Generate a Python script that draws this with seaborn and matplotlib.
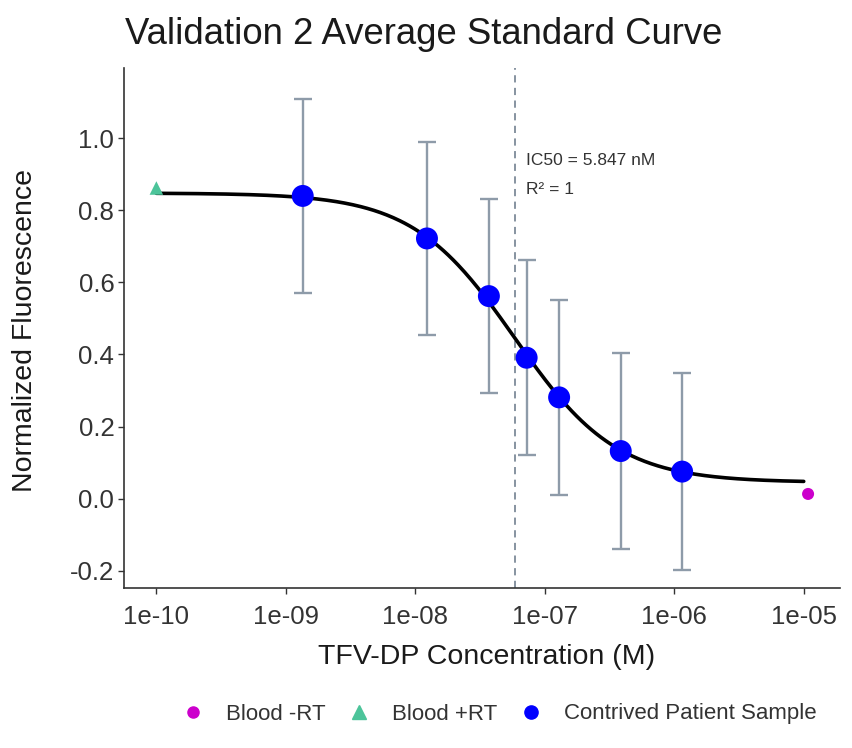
import numpy as np
import pandas as pd
import matplotlib
matplotlib.use("Agg")
import matplotlib.pyplot as plt
from matplotlib.lines import Line2D
import seaborn as sns

# ---- data ----
conc = [1.35e-9, 1.23e-8, 3.7e-8, 7.24e-8, 1.29e-7, 3.86e-7, 1.15e-6]
mean_fl = [0.840, 0.722, 0.562, 0.391, 0.281, 0.132, 0.075]
sd_fl = [0.270, 0.269, 0.270, 0.270, 0.271, 0.272, 0.273]
blood_pos_conc = [1e-10]
blood_pos_fl = [0.862]
blood_neg_conc = [1.08e-5]
blood_neg_fl = [0.013]
# 4-parameter logistic fit shown in the chart
fit_top = 0.848
fit_bottom = 0.045
fit_ic50 = 5.847e-8
fit_hill = 1.10
curve_span = [1e-10, 1e-5]
group_names = ["Blood -RT", "Blood +RT", "Contrived Patient Sample"]
group_colors = ["#CC00CC", "#4CC49A", "#0000FF"]
x_ticks = [1e-10, 1e-9, 1e-8, 1e-7, 1e-6, 1e-5]
x_tick_labels = ["1e-10", "1e-09", "1e-08", "1e-07", "1e-06", "1e-05"]
y_ticks = [-0.2, 0.0, 0.2, 0.4, 0.6, 0.8, 1.0]
y_tick_labels = ["-0.2", "0.0", "0.2", "0.4", "0.6", "0.8", "1.0"]

sns.set_theme(style="ticks")
plt.rcParams["font.family"] = ["Liberation Sans", "DejaVu Sans"]

fig = plt.figure(figsize=(8.52, 7.48), dpi=100)
W, H = 852, 748
L, R, T, B = 124, 840, 68, 588
ax = fig.add_axes([L / W, 1 - B / H, (R - L) / W, (B - T) / H])

# fitted curve
xs = np.logspace(np.log10(curve_span[0]), np.log10(curve_span[1]), 400)
ys = fit_bottom + (fit_top - fit_bottom) / (1 + (xs / fit_ic50) ** fit_hill)
curve_df = pd.DataFrame({"x": xs, "y": ys})

# error bars
err_color = "#8E9BA9"
ax.errorbar(conc, mean_fl, yerr=sd_fl, fmt="none", ecolor=err_color,
            elinewidth=1.7, capsize=6.5, capthick=1.7, zorder=1)

sns.lineplot(data=curve_df, x="x", y="y", color="black", linewidth=2.6,
             ax=ax, zorder=2, legend=False)

pts = pd.DataFrame({
    "x": blood_neg_conc + blood_pos_conc + conc,
    "y": blood_neg_fl + blood_pos_fl + mean_fl,
    "group": [group_names[0]] * len(blood_neg_conc)
             + [group_names[1]] * len(blood_pos_conc)
             + [group_names[2]] * len(conc),
})
palette = dict(zip(group_names, group_colors))
sizes = {group_names[0]: 75, group_names[1]: 95, group_names[2]: 250}
markers = {group_names[0]: "o", group_names[1]: "^", group_names[2]: "o"}
for g in group_names:
    sub = pts[pts["group"] == g]
    sns.scatterplot(data=sub, x="x", y="y", color=palette[g], marker=markers[g],
                    s=sizes[g], edgecolor="none", ax=ax, zorder=3, legend=False)

# IC50 line and annotation
ax.axvline(fit_ic50, color="#7D8A98", linestyle=(0, (4, 3)), linewidth=1.3, zorder=0)
ax.text(7.2e-8, 0.937, "IC50 = 5.847 nM", fontsize=12.5, color="#333333",
        va="center", ha="left")
ax.text(7.2e-8, 0.857, "R² = 1", fontsize=12.5, color="#333333",
        va="center", ha="left")

ax.set_xscale("log")
ax.set_xlim(10 ** -10.25, 10 ** -4.72)
ax.set_ylim(-0.248, 1.195)
ax.set_xticks(x_ticks)
ax.set_xticklabels(x_tick_labels)
ax.xaxis.set_minor_locator(matplotlib.ticker.NullLocator())
ax.set_yticks(y_ticks)
ax.set_yticklabels(y_tick_labels)
ax.tick_params(axis="both", labelsize=18.5, colors="#333333", length=4, width=1,
               labelcolor="#333333")
ax.tick_params(axis="x", pad=8)
ax.tick_params(axis="y", pad=3)
for s in ["left", "bottom"]:
    ax.spines[s].set_color("#333333")
    ax.spines[s].set_linewidth(1.2)
sns.despine(ax=ax)
ax.set_xlabel("")
ax.set_ylabel("")

fig.text(424 / W, 1 - 35 / H, "Validation 2 Average Standard Curve", fontsize=26.3,
         ha="center", va="center", color="#1a1a1a")
fig.text(487 / W, 1 - 657 / H, "TFV-DP Concentration (M)", fontsize=20.5,
         ha="center", va="center", color="#1a1a1a")
fig.text(25 / W, 1 - 330 / H, "Normalized Fluorescence", fontsize=20.5,
         ha="center", va="center", rotation=90, color="#1a1a1a")

handles = [
    Line2D([], [], linestyle="none", marker="o", markersize=8, color=group_colors[0]),
    Line2D([], [], linestyle="none", marker="^", markersize=9.5, color=group_colors[1]),
    Line2D([], [], linestyle="none", marker="o", markersize=9.5, color=group_colors[2]),
]
leg = fig.legend(handles, group_names, loc="center", ncol=3, frameon=False,
                 bbox_to_anchor=(498 / W, 1 - 714 / H), fontsize=16,
                 handletextpad=0.9, columnspacing=0.9, handlelength=1.2)
for t in leg.get_texts():
    t.set_color("#333333")

fig.savefig("out.png", dpi=100)
